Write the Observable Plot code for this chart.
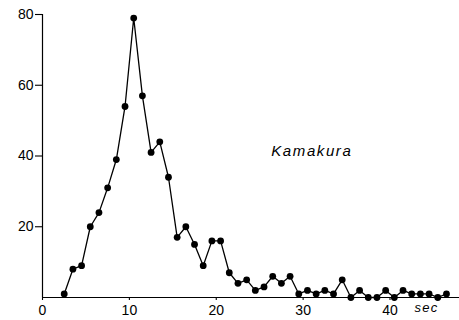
<!DOCTYPE html>
<html>
<head>
<meta charset="utf-8">
<script src="https://cdn.jsdelivr.net/npm/d3@7"></script>
<script src="https://cdn.jsdelivr.net/npm/@observablehq/plot@0.6"></script>
<style>
  html, body { margin: 0; padding: 0; background: #fff; }
  #chart { width: 459px; height: 320px; }
</style>
</head>
<body>
<div id="chart"></div>
<script>
// Record duration (sec) and the count observed in each one-second bin
const seconds = [2.5, 3.5, 4.5, 5.5, 6.5, 7.5, 8.5, 9.5, 10.5, 11.5,
  12.5, 13.5, 14.5, 15.5, 16.5, 17.5, 18.5, 19.5, 20.5, 21.5,
  22.5, 23.5, 24.5, 25.5, 26.5, 27.5, 28.5, 29.5, 30.5, 31.5,
  32.5, 33.5, 34.5, 35.5, 36.5, 37.5, 38.5, 39.5, 40.5, 41.5,
  42.5, 43.5, 44.5, 45.5, 46.5];
const counts = [1, 8, 9, 20, 24, 31, 39, 54, 79, 57,
  41, 44, 34, 17, 20, 15, 9, 16, 16, 7,
  4, 5, 2, 3, 6, 4, 6, 1, 2, 1,
  2, 1, 5, 0, 2, 0, 0, 2, 0, 2,
  1, 1, 1, 0, 1];

const xTicks = [0, 10, 20, 30, 40];
const yTicks = [20, 40, 60, 80];

// Text annotations placed in data units
const notes = [
  {text: "Kamakura", x: 31.0, y: 41.5, size: 15, spacing: "1.6px"},
  {text: "sec", x: 44.2, y: -3.0, size: 13, spacing: "1.2px"}
];

const rows = seconds.map((s, i) => ({s, n: counts[i]}));

const chart = Plot.plot({
  width: 459,
  height: 320,
  marginLeft: 42,
  marginRight: 0,
  marginTop: 14,
  marginBottom: 23,
  style: {fontFamily: "Liberation Sans, Arial, sans-serif", color: "#000", background: "#fff"},
  x: {domain: [0, 48]},
  y: {domain: [0, 80]},
  marks: [
    Plot.ruleX([0], {y1: 0, y2: 80, stroke: "#000", strokeWidth: 1.2}),
    Plot.ruleY([0], {stroke: "#000", strokeWidth: 1.2}),
    Plot.axisY({ticks: yTicks, tickSize: 7, tickPadding: 2, fontSize: 14, label: null, strokeWidth: 1.1}),
    Plot.axisX({ticks: xTicks, tickSize: 3, tickPadding: 5, fontSize: 14, label: null, strokeWidth: 1.1}),
    Plot.line(rows, {x: "s", y: "n", stroke: "#000", strokeWidth: 1.3}),
    Plot.dot(rows, {x: "s", y: "n", r: 3.4, fill: "#000", stroke: "none"}),
    ...notes.map(d => Plot.text([d], {
      x: "x", y: "y", text: "text", fontSize: d.size, fontStyle: "italic",
      fill: "#000", clip: false,
      style: {letterSpacing: d.spacing}
    }))
  ]
});

// letter spacing for the italic annotations
chart.querySelectorAll("text").forEach(t => {
  if (t.textContent === "Kamakura") t.setAttribute("letter-spacing", "1.6");
  if (t.textContent === "sec") t.setAttribute("letter-spacing", "1.2");
});

document.getElementById("chart").appendChild(chart);
</script>
</body>
</html>
